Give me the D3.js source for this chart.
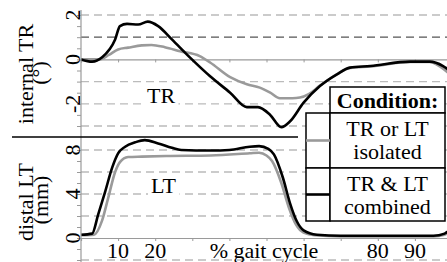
<!DOCTYPE html>
<html>
<head>
<meta charset="utf-8">
<script src="https://cdnjs.cloudflare.com/ajax/libs/d3/7.8.5/d3.min.js"></script>
<style>
  body { margin: 0; background: #fff; }
  svg { display: block; }
  svg text { font-family: "Liberation Serif", "Times New Roman", Times, Tinos, "Nimbus Roman", "DejaVu Serif", "Noto Serif", serif; }
</style>
</head>
<body>
<div id="chart"></div>
<script>

// % gait cycle / value pairs
let trIsolated = [[0,0],[5,0],[7.5,0.2],[10,0.45],[12.7,0.53],[16.4,0.63],[19,0.65],[22.6,0.55],
    [26.7,0.37],[32,0.15],[34.8,-0.14],[40.2,-0.8],[44.7,-1.12],[48.2,-1.27],[51,-1.5],[53.6,-1.75],
    [57,-1.75],[59,-1.72],[61.5,-1.55],[64.4,-1.18],[69,-0.66],[72.5,-0.38],[78,-0.32],[88.7,-0.12],
    [94,-0.12],[97,-0.35],[100,-0.75]];
let trCombined = [[0,0],[3,-0.1],[5.7,0.1],[9.2,0.9],[10.5,1.5],[12.4,1.6],[15.4,1.57],[18,1.7],
    [20.8,1.5],[24.5,0.9],[29.4,0.08],[34.8,-0.76],[40.2,-1.5],[44.7,-2.15],[47.7,-2.15],[51,-2.5],
    [54,-3.05],[56.3,-2.8],[60,-1.95],[64.4,-1.2],[69,-0.67],[72.5,-0.37],[78,-0.3],[88.7,-0.1],
    [94,-0.1],[97.6,-0.3],[100,-0.6]];
let ltIsolated = [[0,0.25],[3.5,0.3],[5.7,1.6],[7.3,3.6],[9.2,6.0],[10.5,6.9],[12.7,7.36],[16.4,7.4],
    [23,7.45],[35,7.5],[45.5,7.7],[48,7.75],[50,7.5],[51.5,7.0],[54,5.0],[56,2.8],[58,1.2],[60,0.5],
    [63,0.25],[70,0.15],[95,0.15],[98,0.3],[100,0.7]];
let ltCombined = [[0,0.3],[3,0.4],[4.6,2.1],[6.5,4.2],[8.4,6.4],[10,7.7],[11.9,8.3],[14.6,8.7],
    [17.2,8.9],[20.8,8.6],[24.5,8.2],[27,8.0],[35,7.95],[40,8.0],[45.5,8.3],[48,8.35],[50.5,8.1],
    [52,7.6],[54.4,5.5],[56.3,3.2],[58.2,1.5],[60,0.7],[63.6,0.3],[70,0.2],[95,0.2],[98,0.4],[100,0.9]];

let xTickLabels = [10, 20, 80, 90];
let trTickLabels = [2, 0, -2];
let ltTickLabels = [8, 4, 0];
let trGrid = [2, 1, -1, -2, -3];
let ltGrid = [8, 6, 4, 2, -2];
let legendRows = [["TR or LT", "isolated"], ["TR & LT", "combined"]];

let width = 447;
let height = 262;
let grey = "#9a9a9a";

let svg = d3.select("#chart").append("svg")
    .attr("width", width)
    .attr("height", height);

let x = d3.scaleLinear().domain([0, 100]).range([81, 452]);
let yTR = d3.scaleLinear().domain([-3, 2]).range([126, 15]);
let yLT = d3.scaleLinear().domain([-2, 8]).range([260, 150]);

function drawPanel(y, grid, ticks, minor, label, labelPos, series) {
    // dashed grid
    svg.append("g").selectAll("line")
        .data(grid)
        .join("line")
            .attr("x1", x(0)).attr("x2", width)
            .attr("y1", d => y(d)).attr("y2", d => y(d))
            .attr("stroke", d => d == 1 ? "#555" : "#bbb")
            .attr("stroke-width", 1.3)
            .attr("stroke-dasharray", "8,5");

    // zero line with x ticks
    let xAxis = svg.append("g")
        .attr("transform", `translate(0,${y(0)})`)
        .call(d3.axisBottom(x).tickValues(d3.range(0, 101, 10)).tickSize(3).tickFormat(""));
    xAxis.select(".domain").attr("stroke", grey).attr("stroke-width", 1.2);
    xAxis.selectAll(".tick line").attr("stroke", grey);

    // minor y ticks
    let yAxis = svg.append("g")
        .attr("transform", `translate(${x(0)},0)`)
        .call(d3.axisLeft(y).tickValues(minor).tickSize(4).tickFormat(""));
    yAxis.select(".domain").remove();
    yAxis.selectAll(".tick line").attr("stroke", grey);

    svg.append("g").selectAll("text")
        .data(ticks)
        .join("text")
            .attr("transform", d => `translate(80,${y(d)}) rotate(-90)`)
            .attr("text-anchor", "middle")
            .attr("font-size", 22)
            .text(d => d < 0 ? "-" + Math.abs(d) : d);

    // panel label with white backing
    let lab = svg.append("text")
        .attr("x", labelPos[0]).attr("y", labelPos[1])
        .attr("font-size", 22)
        .text(label);
    let bb = lab.node().getBBox();
    svg.append("rect")
        .attr("x", bb.x - 3).attr("y", bb.y)
        .attr("width", bb.width + 6).attr("height", bb.height)
        .attr("fill", "#fff");
    lab.raise();

    let line = d3.line()
        .x(d => x(d[0]))
        .y(d => y(d[1]))
        .curve(d3.curveMonotoneX);

    series.forEach(s => {
        svg.append("path")
            .datum(s.data)
            .attr("fill", "none")
            .attr("stroke", s.color)
            .attr("stroke-width", 2.6)
            .attr("d", line);
    });
}

drawPanel(yTR, trGrid, trTickLabels, d3.range(-3, 2.01, 0.5), "TR", [147, 103], [
    {data: trIsolated, color: grey},
    {data: trCombined, color: "#000"}
]);
drawPanel(yLT, ltGrid, ltTickLabels, d3.range(-2, 8.01, 1), "LT", [151, 193], [
    {data: ltIsolated, color: grey},
    {data: ltCombined, color: "#000"}
]);

// y axis line
svg.append("line")
    .attr("x1", x(0)).attr("x2", x(0))
    .attr("y1", 10).attr("y2", height)
    .attr("stroke", grey).attr("stroke-width", 1.2);

// panel separator
svg.append("line")
    .attr("x1", 12).attr("x2", 298)
    .attr("y1", 137).attr("y2", 137)
    .attr("stroke", "#000").attr("stroke-width", 1.5);

// y titles
let titles = [
    {t: "internal TR", x: 33, y: 74},
    {t: "(°)", x: 47, y: 73},
    {t: "distal LT", x: 33, y: 202},
    {t: "(mm)", x: 48, y: 200}
];
svg.append("g").selectAll("text")
    .data(titles)
    .join("text")
        .attr("transform", d => `translate(${d.x},${d.y}) rotate(-90)`)
        .attr("text-anchor", "middle")
        .attr("font-size", 22)
        .text(d => d.t);

// x tick labels
svg.append("g").selectAll("text")
    .data(xTickLabels)
    .join("text")
        .attr("x", d => x(d))
        .attr("y", 258)
        .attr("text-anchor", "middle")
        .attr("font-size", 22)
        .text(d => d);

svg.append("text")
    .attr("x", 264).attr("y", 258)
    .attr("text-anchor", "middle")
    .attr("font-size", 22)
    .text("% gait cycle");

// legend
let legend = svg.append("g");
legend.append("rect")
    .attr("x", 330).attr("y", 87).attr("width", 115).attr("height", 26)
    .attr("fill", "#fff").attr("stroke", "#000").attr("stroke-width", 1.5);
legend.append("text")
    .attr("x", 387.5).attr("y", 108)
    .attr("text-anchor", "middle")
    .attr("font-size", 22)
    .attr("font-weight", "bold")
    .text("Condition:");

let rowTop = [113, 168];
let rowH = [55, 53];
legendRows.forEach((r, i) => {
    legend.append("rect")
        .attr("x", 306).attr("y", rowTop[i]).attr("width", 24).attr("height", rowH[i])
        .attr("fill", "#fff").attr("stroke", "#000").attr("stroke-width", 1.5);
    legend.append("rect")
        .attr("x", 330).attr("y", rowTop[i]).attr("width", 115).attr("height", rowH[i])
        .attr("fill", "#fff").attr("stroke", "#000").attr("stroke-width", 1.5);
    legend.append("line")
        .attr("x1", 306).attr("x2", 330)
        .attr("y1", rowTop[i] + rowH[i] / 2).attr("y2", rowTop[i] + rowH[i] / 2)
        .attr("stroke", i == 0 ? grey : "#000").attr("stroke-width", 2.6);
    r.forEach((t, j) => {
        legend.append("text")
            .attr("x", 387.5).attr("y", rowTop[i] + 23 + j * 23)
            .attr("text-anchor", "middle")
            .attr("font-size", 22)
            .text(t);
    });
});

</script>
</body>
</html>
